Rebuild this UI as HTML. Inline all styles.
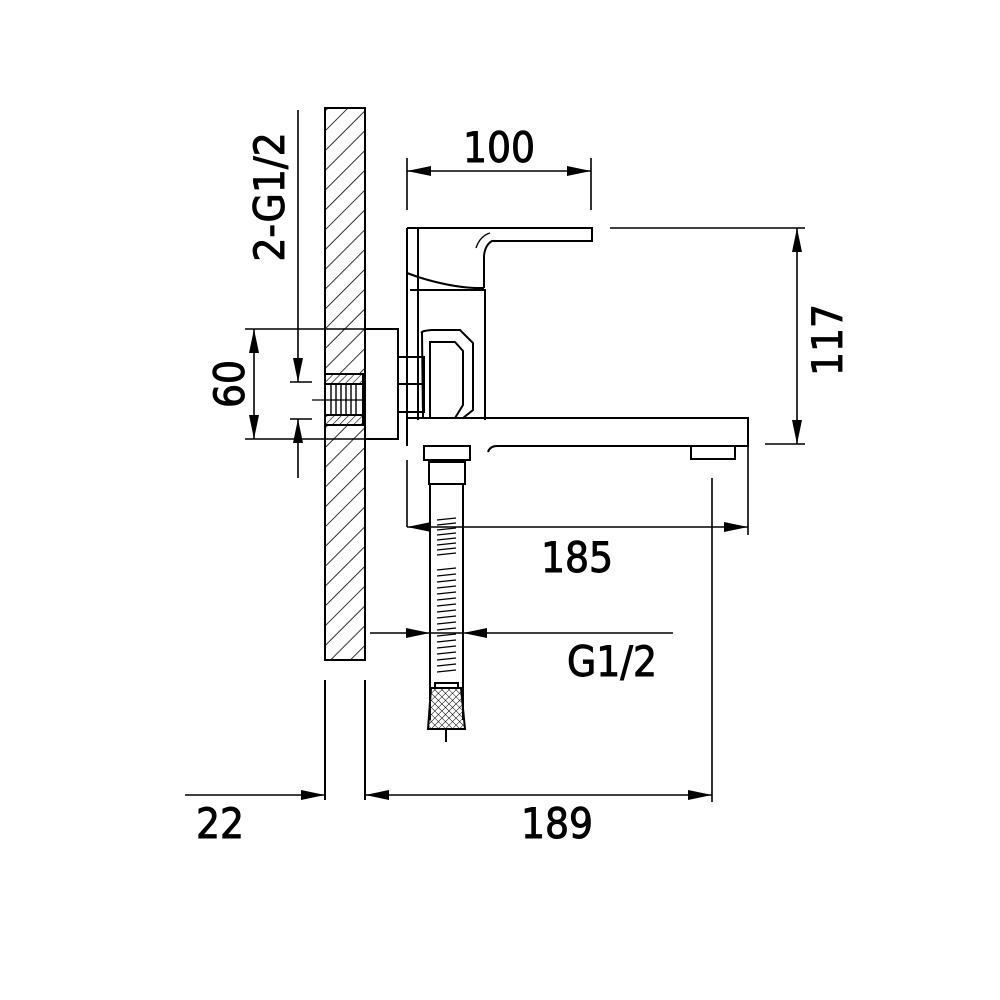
<!DOCTYPE html>
<html><head><meta charset="utf-8"><style>
html,body{margin:0;padding:0;background:#fff}
svg{display:block}
text{font-family:"DejaVu Sans Condensed","DejaVu Sans","Liberation Sans",sans-serif;fill:#000;stroke:#000;stroke-width:0.9}
</style></head><body>
<svg width="1000" height="1000" viewBox="0 0 1000 1000" xmlns="http://www.w3.org/2000/svg">
<defs>
<pattern id="h" width="14" height="14" patternUnits="userSpaceOnUse" patternTransform="rotate(45)">
<line x1="0" y1="0" x2="0" y2="14" stroke="#000" stroke-width="1.6"/>
</pattern>
<pattern id="h2" width="5" height="5" patternUnits="userSpaceOnUse" patternTransform="rotate(45)">
<line x1="0" y1="0" x2="0" y2="5" stroke="#000" stroke-width="1.2"/>
</pattern>
<pattern id="x" width="5" height="5" patternUnits="userSpaceOnUse" patternTransform="rotate(45)">
<path d="M0 0V5M0 0H5" stroke="#000" stroke-width="1" fill="none"/>
</pattern>
</defs>
<g fill="none" stroke="#000" stroke-width="2">
<rect x="325" y="108" width="40" height="552" fill="url(#h)"/>
<line x1="325" y1="680" x2="325" y2="800"/>
<line x1="365" y1="680" x2="365" y2="800"/>
<rect x="325" y="374" width="38" height="51" fill="#fff"/>
<rect x="325" y="374" width="38" height="10" fill="url(#h2)"/>
<rect x="325" y="415" width="38" height="10" fill="url(#h2)"/>
<path d="M331 384V415M336 384V415M341 384V415M346 384V415M351 384V415M356 384V415" stroke-width="1.4"/>
<line x1="312" y1="400" x2="378" y2="400" stroke-width="1.2"/>
<rect x="365" y="329" width="33" height="110" fill="#fff"/>
<rect x="398" y="357" width="26" height="55"/>
<line x1="398" y1="384" x2="424" y2="384"/>
<!-- body -->
<path d="M407 228H592V241H492Q485 245 484 256V288"/>
<path d="M407 228V420M418 228V420"/>
<path d="M407 273L418 277Q450 287 475 288H484"/>
<path d="M476 248Q480 236 490 233" stroke-width="1.4"/>
<path d="M410 290H485V420"/>
<path d="M422 333Q420 331 432 330H460L473 343V410L463 418H423Z"/>
<path d="M430 342H455L463 351V405L455 418H430Z"/>
<!-- spout -->
<path d="M407 418H748V446H497Q490 446 488 452"/>
<path d="M407 418V446"/>
<rect x="691" y="446" width="44" height="13"/>
<!-- hose -->
<rect x="424" y="446" width="46" height="14"/>
<rect x="429" y="462" width="36" height="22"/>
<line x1="430" y1="484" x2="430" y2="720"/>
<line x1="463" y1="484" x2="463" y2="720"/>
<path d="M437 520L456 518M437 525L456 523M437 530L456 528M437 535L456 533M437 540L456 538M437 545L456 543M437 550L456 548M437 555L456 553" stroke-width="1.3"/>
<path d="M437 570L456 568M437 576L456 574M437 582L456 580M437 588L456 586M437 594L456 592M437 600L456 598M437 606L456 604M437 612L456 610M437 618L456 616M437 624L456 622M437 630L456 628M437 636L456 634M437 642L456 640M437 648L456 646M437 654L456 652M437 660L456 658M437 666L456 664M437 672L456 670" stroke-width="1.3"/>
<path d="M435 683H458V688H435Z"/>
<path d="M431 688H461L465 729H428Z" fill="url(#x)"/>
<line x1="446" y1="729" x2="446" y2="742"/>
</g>
<g stroke="#000" stroke-width="1.6" fill="none">
<line x1="407" y1="158" x2="407" y2="210"/>
<line x1="591" y1="158" x2="591" y2="210"/>
<line x1="407" y1="171" x2="591" y2="171"/>
<line x1="610" y1="228" x2="805" y2="228"/>
<line x1="765" y1="444" x2="805" y2="444"/>
<line x1="797" y1="228" x2="797" y2="444"/>
<line x1="245" y1="329" x2="365" y2="329"/>
<line x1="245" y1="439" x2="365" y2="439"/>
<line x1="254" y1="329" x2="254" y2="439"/>
<line x1="298" y1="110" x2="298" y2="382"/>
<line x1="290" y1="382" x2="312" y2="382"/>
<line x1="290" y1="419" x2="312" y2="419"/>
<line x1="298" y1="419" x2="298" y2="478"/>
<line x1="407" y1="460" x2="407" y2="527"/>
<line x1="407" y1="527" x2="748" y2="527"/>
<line x1="748" y1="446" x2="748" y2="535"/>
<line x1="370" y1="633" x2="673" y2="633"/>
<line x1="430" y1="620" x2="430" y2="640"/>
<line x1="463" y1="620" x2="463" y2="640"/>
<line x1="185" y1="795" x2="325" y2="795"/>
<line x1="365" y1="795" x2="712" y2="795"/>
<line x1="712" y1="478" x2="712" y2="802"/>
</g>
<g fill="#000">
<path d="M407 171l24 -5v10z"/><path d="M591 171l-24 -5v10z"/>
<path d="M797 228l-5 24h10z"/><path d="M797 444l-5 -24h10z"/>
<path d="M254 329l-5 24h10z"/><path d="M254 439l-5 -24h10z"/>
<path d="M298 382l-5 -24h10z"/><path d="M298 419l-5 24h10z"/>
<path d="M748 527l-24 -5v10z"/><path d="M407 527l24 -5v10z"/>
<path d="M430 633l-24 -5v10z"/><path d="M463 633l24 -5v10z"/>
<path d="M325 795l-24 -5v10z"/>
<path d="M365 795l24 -5v10z"/><path d="M712 795l-24 -5v10z"/>
</g>
<g font-size="42">
<text x="499" y="162" text-anchor="middle">100</text>
<text x="577" y="572" text-anchor="middle">185</text>
<text x="612" y="676" text-anchor="middle">G1/2</text>
<text x="220" y="838" text-anchor="middle">22</text>
<text x="557" y="838" text-anchor="middle">189</text>
<text transform="translate(842,340) rotate(-90)" text-anchor="middle">117</text>
<text transform="translate(244,384) rotate(-90)" text-anchor="middle">60</text>
<text transform="translate(284,197) rotate(-90)" text-anchor="middle">2-G1/2</text>
</g>
</svg>
</body></html>
